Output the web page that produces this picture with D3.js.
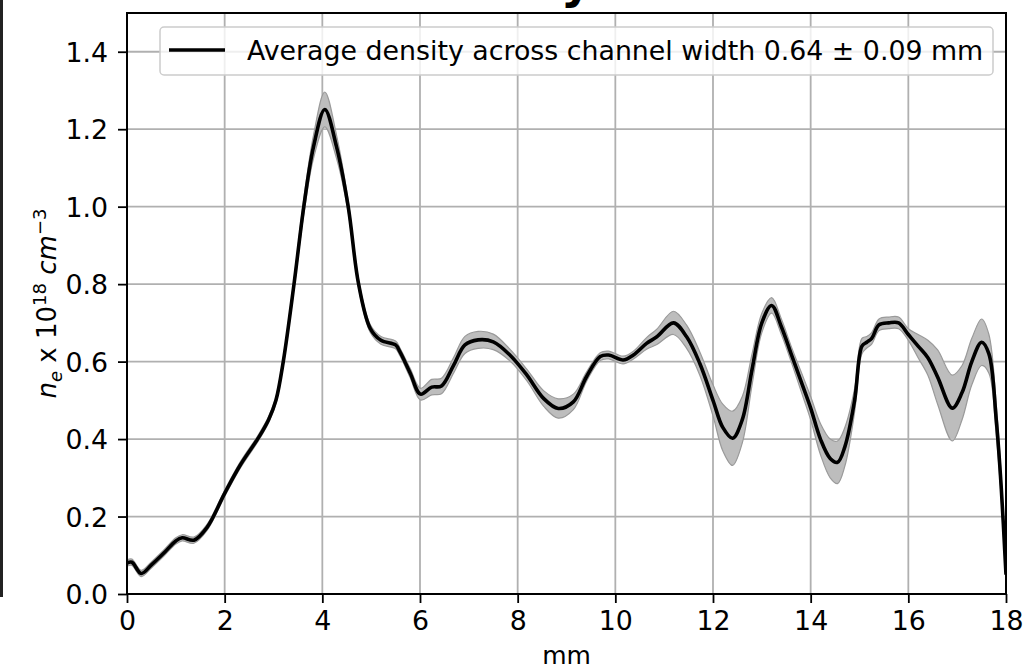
<!DOCTYPE html>
<html>
<head>
<meta charset="utf-8">
<script src="https://cdn.jsdelivr.net/npm/d3@7"></script>
<style>
  html, body { margin: 0; padding: 0; background: #fff; }
  svg { display: block; font-family: "DejaVu Sans", sans-serif; }
</style>
</head>
<body>
<svg id="chart" width="1036" height="672"></svg>
<script>
// ---- data ----
const positionMm = [0, 0.1, 0.29, 0.5, 0.75, 1.0, 1.13, 1.37, 1.64, 2.0, 2.32, 2.7, 2.9, 3.05, 3.2, 3.42, 3.62, 3.82, 4.05, 4.29, 4.53, 4.74, 4.98, 5.2, 5.5, 5.59, 5.8, 6.01, 6.24, 6.44, 6.69, 6.92, 7.19, 7.5, 7.84, 8.19, 8.53, 8.83, 9.14, 9.41, 9.69, 9.86, 10.16, 10.37, 10.64, 10.85, 11.19, 11.46, 11.73, 12.0, 12.2, 12.4, 12.6, 12.8, 13.0, 13.2, 13.4, 13.6, 13.8, 14.0, 14.2, 14.4, 14.55, 14.7, 14.9, 15.05, 15.15, 15.25, 15.4, 15.6, 15.8, 16.0, 16.2, 16.4, 16.6, 16.9, 17.1, 17.3, 17.5, 17.65, 17.8, 17.9, 18.0];
const meanDensity = [0.08, 0.082, 0.053, 0.075, 0.105, 0.137, 0.145, 0.139, 0.172, 0.26, 0.333, 0.405, 0.45, 0.5, 0.6, 0.8, 1.0, 1.155, 1.251, 1.155, 1.0, 0.802, 0.686, 0.655, 0.643, 0.625, 0.57, 0.516, 0.534, 0.537, 0.591, 0.643, 0.656, 0.651, 0.617, 0.565, 0.505, 0.479, 0.496, 0.561, 0.613, 0.617, 0.604, 0.617, 0.647, 0.664, 0.70, 0.664, 0.595, 0.5, 0.43, 0.402, 0.45, 0.58, 0.70, 0.745, 0.69, 0.62, 0.55, 0.48, 0.40, 0.35, 0.34, 0.38, 0.5, 0.64, 0.65, 0.66, 0.695, 0.70, 0.70, 0.67, 0.64, 0.61, 0.56, 0.48, 0.52, 0.60, 0.65, 0.62, 0.45, 0.28, 0.05];
const densitySpread = [0.008, 0.008, 0.008, 0.008, 0.008, 0.008, 0.008, 0.008, 0.008, 0.008, 0.008, 0.008, 0.008, 0.008, 0.01, 0.012, 0.02, 0.03, 0.045, 0.03, 0.015, 0.01, 0.01, 0.01, 0.01, 0.01, 0.012, 0.015, 0.02, 0.02, 0.02, 0.022, 0.022, 0.02, 0.015, 0.015, 0.02, 0.025, 0.02, 0.012, 0.01, 0.01, 0.01, 0.01, 0.015, 0.02, 0.03, 0.03, 0.03, 0.04, 0.06, 0.07, 0.06, 0.04, 0.025, 0.02, 0.02, 0.02, 0.025, 0.03, 0.04, 0.05, 0.055, 0.05, 0.03, 0.02, 0.015, 0.015, 0.015, 0.015, 0.015, 0.015, 0.03, 0.045, 0.07, 0.085, 0.07, 0.06, 0.06, 0.05, 0.04, 0.03, 0.02];
const xTicks = [0, 2, 4, 6, 8, 10, 12, 14, 16, 18];
const yTicks = [0.0, 0.2, 0.4, 0.6, 0.8, 1.0, 1.2, 1.4];
const legendLabel = "Average density across channel width 0.64 \u00b1 0.09 mm";
const xLabel = "mm";
const titleText = "Density";

// ---- layout ----
const svg = d3.select("#chart");
const m = { left: 127, right: 1006, top: 13, bottom: 594 };
const x = d3.scaleLinear().domain([0, 18]).range([m.left, m.right]);
const y = d3.scaleLinear().domain([0, 1.5]).range([m.bottom, m.top]);

svg.append("rect").attr("width", 1036).attr("height", 672).attr("fill", "#fff");
// dark strip at left edge
svg.append("rect").attr("x", 0).attr("y", 0).attr("width", 3).attr("height", 597).attr("fill", "#222");

// title, cut off by the top edge (only the descender shows)
svg.append("text").attr("x", 592).attr("y", -2).attr("text-anchor", "end")
  .attr("font-size", 48).attr("font-weight", "bold").attr("fill", "#000").text(titleText);

const data = positionMm.map((p, i) => ({ p, m: meanDensity[i], s: densitySpread[i] }));

// grid
const grid = svg.append("g").attr("stroke", "#b0b0b0").attr("stroke-width", 1.8);
xTicks.forEach(t => grid.append("line").attr("x1", x(t)).attr("x2", x(t)).attr("y1", m.top).attr("y2", m.bottom));
yTicks.forEach(t => grid.append("line").attr("x1", m.left).attr("x2", m.right).attr("y1", y(t)).attr("y2", y(t)));

svg.append("clipPath").attr("id", "plotclip").append("rect")
  .attr("x", m.left).attr("y", m.top).attr("width", m.right - m.left).attr("height", m.bottom - m.top);

const plot = svg.append("g").attr("clip-path", "url(#plotclip)");
const curve = d3.curveCatmullRom.alpha(0.5);
plot.append("path").datum(data)
  .attr("d", d3.area().x(d => x(d.p)).y0(d => y(d.m - d.s)).y1(d => y(d.m + d.s)).curve(curve))
  .attr("fill", "#bdbdbd").attr("stroke", "#9a9a9a").attr("stroke-width", 1.2);
plot.append("path").datum(data)
  .attr("d", d3.line().x(d => x(d.p)).y(d => y(d.m)).curve(curve))
  .attr("fill", "none").attr("stroke", "#000").attr("stroke-width", 3.6).attr("stroke-linejoin", "round");

// axes
const fs = 26.8;
const xAxis = svg.append("g").attr("transform", `translate(0,${m.bottom})`)
  .call(d3.axisBottom(x).tickValues(xTicks).tickFormat(d3.format("d")).tickSize(9).tickPadding(8));
const yAxis = svg.append("g").attr("transform", `translate(${m.left},0)`)
  .call(d3.axisLeft(y).tickValues(yTicks).tickFormat(d3.format(".1f")).tickSize(9).tickPadding(10));
[xAxis, yAxis].forEach(a => {
  a.select(".domain").remove();
  a.selectAll(".tick line").attr("stroke", "#000").attr("stroke-width", 1.8);
  a.selectAll(".tick text").attr("font-size", fs).attr("font-family", "DejaVu Sans").attr("fill", "#000");
});
yAxis.selectAll(".tick text").attr("dy", "0.36em");
xAxis.selectAll(".tick text").attr("dy", "0.72em");

// frame
svg.append("rect").attr("x", m.left).attr("y", m.top).attr("width", m.right - m.left).attr("height", m.bottom - m.top)
  .attr("fill", "none").attr("stroke", "#000").attr("stroke-width", 2);

// x label
svg.append("text").attr("x", (m.left + m.right) / 2).attr("y", 664).attr("text-anchor", "middle")
  .attr("font-size", 25).attr("fill", "#000").text(xLabel);

// y label
const yl = svg.append("text").attr("transform", `translate(56,${(m.top + m.bottom) / 2}) rotate(-90)`)
  .attr("text-anchor", "middle").attr("font-size", 26).attr("fill", "#000");
yl.append("tspan").attr("font-style", "italic").text("n");
yl.append("tspan").attr("font-style", "italic").attr("font-size", 18).attr("dy", 6).text("e");
yl.append("tspan").attr("dy", -6).text(" x 10");
yl.append("tspan").attr("font-size", 18).attr("dy", -10).text("18");
yl.append("tspan").attr("dy", 10).attr("font-style", "italic").text(" cm");
yl.append("tspan").attr("font-size", 18).attr("dy", -10).text("\u22123");

// legend
const lg = svg.append("g");
lg.append("rect").attr("x", 160).attr("y", 27).attr("width", 833).attr("height", 48).attr("rx", 4)
  .attr("fill", "#fff").attr("fill-opacity", 0.8).attr("stroke", "#cccccc").attr("stroke-width", 1.5);
lg.append("line").attr("x1", 169).attr("x2", 225).attr("y1", 50).attr("y2", 50)
  .attr("stroke", "#000").attr("stroke-width", 3.6);
lg.append("text").attr("x", 247).attr("y", 60).attr("font-size", fs).attr("fill", "#000").text(legendLabel);
</script>
</body>
</html>
